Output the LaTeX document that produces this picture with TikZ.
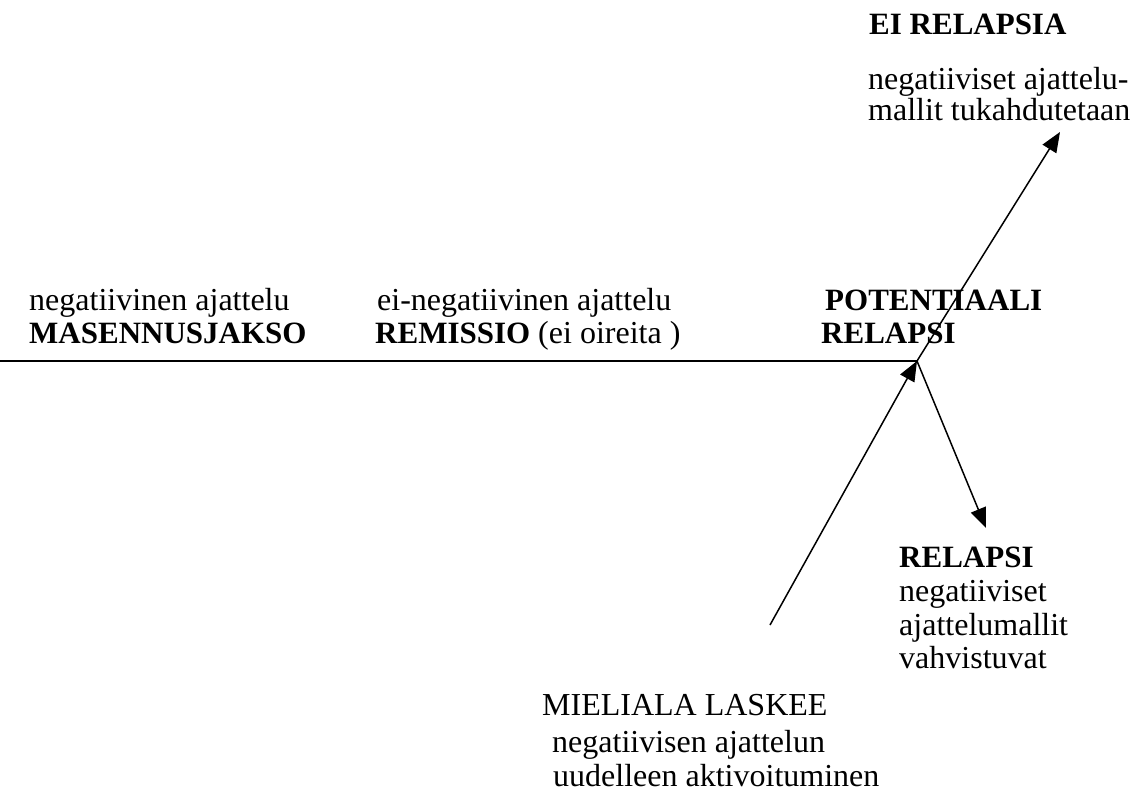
\documentclass[tikz,border=0pt]{standalone}
\usepackage{fontspec}
\setmainfont{Liberation Serif}
\usetikzlibrary{arrows.meta}
\begin{document}
\begin{tikzpicture}[x=1pt,y=-1pt,
  lbl/.style={anchor=base west,inner sep=0pt,font=\fontsize{32}{33}\selectfont},
  blbl/.style={lbl,font=\fontsize{31}{33}\selectfont\bfseries},
  conn/.style={line width=1.5pt},
  arr/.style={conn,-{Triangle[length=20pt,width=16pt]}}]
\useasboundingbox (0,0) rectangle (1141,792);
\fill[white] (0,0) rectangle (1141,792);
% text
\node[lbl]  (t1) at (29,310) {negatiivinen ajattelu};
\node[blbl] (t2) at (29,343) {MASENNUSJAKSO};
\node[lbl]  (t3) at (377,310) {ei-negatiivinen ajattelu};
\node[lbl]  (t4) at (375,343) {{\fontsize{31}{33}\selectfont\bfseries REMISSIO} (ei oireita )};
\node[blbl] (t5) at (825,310) {POTENTIAALI};
\node[blbl] (t6) at (821,343) {RELAPSI};
\node[blbl] (t7) at (869,35) {EI RELAPSIA};
\node[lbl]  (t8) at (868,89) {negatiiviset ajattelu-};
\node[lbl]  (t9) at (868,121) {mallit tukahdutetaan};
\node[blbl] (t10) at (899,567) {RELAPSI};
\node[lbl]  (t11) at (899,601) {negatiiviset};
\node[lbl]  (t12) at (899,635) {ajattelumallit};
\node[lbl]  (t13) at (899,668) {vahvistuvat};
\node[lbl]  (t14) at (542,715) {MIELIALA LASKEE};
\node[lbl]  (t15) at (552,752) {negatiivisen ajattelun};
\node[lbl]  (t16) at (553,786) {uudelleen aktivoituminen};
% connectors
\coordinate (L) at (0,361);
\coordinate (P) at (917,361);
\coordinate (S) at (770,625);
\coordinate (U) at (1060,132);
\coordinate (D) at (986,528);
\draw[conn] (L) -- (P);
\draw[arr] (S) -- (P);
\draw[arr] (P) -- (U);
\draw[arr] (P) -- (D);
\end{tikzpicture}
\end{document}
